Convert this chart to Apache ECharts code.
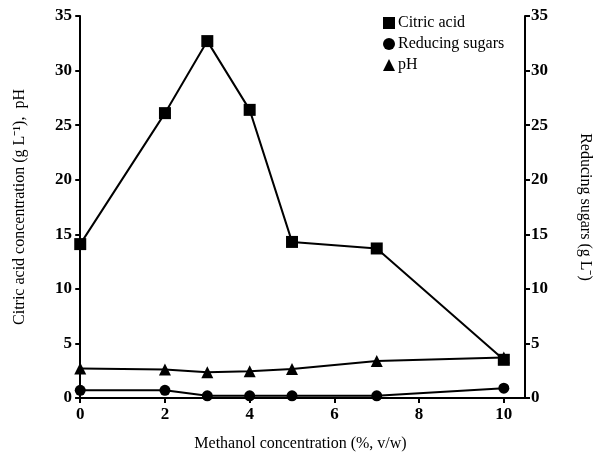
<!DOCTYPE html>
<html>
<head>
<meta charset="utf-8">
<script src="https://cdn.jsdelivr.net/npm/echarts@6/dist/echarts.min.js"></script>
<style>
  html, body { margin: 0; padding: 0; background: #fff; }
  #chart { width: 608px; height: 460px; }
</style>
</head>
<body>
<div id="chart"></div>
<script>
const methanol = [0, 2, 3, 4, 5, 7, 10];
const citricAcid = [14.1, 26.1, 32.7, 26.4, 14.3, 13.7, 3.5];
const reducingSugars = [0.7, 0.7, 0.2, 0.2, 0.2, 0.2, 0.9];
const pH = [2.7, 2.6, 2.35, 2.45, 2.65, 3.4, 3.7];
const xTicks = [0, 2, 4, 6, 8, 10];

const font = 'Liberation Serif';
const chart = echarts.init(document.getElementById('chart'));

function pairs(ys) {
  return methanol.map((x, i) => [x, ys[i]]);
}

const lineStyle = { color: '#000', width: 2 };
const axisLine = { show: true, lineStyle: { color: '#000', width: 2 } };
const axisTick = { show: true, length: 5, lineStyle: { color: '#000', width: 2 } };
const axisLabel = { color: '#000', fontFamily: font, fontSize: 17, fontWeight: 'bold', margin: 4 };

const option = {
  animation: false,
  grid: { left: 76, right: 83, top: 16, bottom: 62 },
  legend: {
    orient: 'vertical',
    left: 378,
    top: 10,
    itemWidth: 12,
    itemHeight: 12,
    itemGap: 5,
    textStyle: { color: '#000', fontFamily: font, fontSize: 16, padding: [0, 0, 0, -2] },
    data: [
      { name: 'Citric acid', icon: 'rect' },
      { name: 'Reducing sugars', icon: 'circle' },
      { name: 'pH', icon: 'triangle' }
    ]
  },
  xAxis: {
    type: 'value',
    min: -0.1,
    max: 10.5,
    name: 'Methanol concentration (%, v/w)',
    nameLocation: 'middle',
    nameGap: 38,
    nameTextStyle: { color: '#000', fontFamily: font, fontSize: 16 },
    axisLine: axisLine,
    axisTick: Object.assign({ customValues: xTicks }, axisTick),
    axisLabel: Object.assign({}, axisLabel, { customValues: xTicks, margin: 8 }),
    splitLine: { show: false }
  },
  yAxis: [
    {
      type: 'value',
      min: 0,
      max: 35,
      interval: 5,
      position: 'left',
      name: 'Citric acid concentration (g L⁻¹),  pH',
      nameLocation: 'middle',
      nameGap: 48,
      nameTextStyle: { color: '#000', fontFamily: font, fontSize: 16 },
      axisLine: axisLine,
      axisTick: axisTick,
      axisLabel: axisLabel,
      splitLine: { show: false }
    },
    {
      type: 'value',
      min: 0,
      max: 35,
      interval: 5,
      position: 'right',
      name: 'Reducing sugars (g L⁻)',
      nameLocation: 'middle',
      nameRotate: -90,
      nameGap: 52,
      nameTextStyle: { color: '#000', fontFamily: font, fontSize: 16 },
      axisLine: axisLine,
      axisTick: axisTick,
      axisLabel: Object.assign({}, axisLabel, { margin: 6 }),
      splitLine: { show: false }
    }
  ],
  series: [
    {
      name: 'Citric acid',
      type: 'line',
      yAxisIndex: 0,
      data: pairs(citricAcid),
      symbol: 'rect',
      symbolSize: 12,
      lineStyle: lineStyle,
      itemStyle: { color: '#000' }
    },
    {
      name: 'Reducing sugars',
      type: 'line',
      yAxisIndex: 1,
      data: pairs(reducingSugars),
      symbol: 'circle',
      symbolSize: 11,
      lineStyle: lineStyle,
      itemStyle: { color: '#000' }
    },
    {
      name: 'pH',
      type: 'line',
      yAxisIndex: 0,
      data: pairs(pH),
      symbol: 'triangle',
      symbolSize: 12,
      lineStyle: lineStyle,
      itemStyle: { color: '#000' }
    }
  ]
};

chart.setOption(option);
</script>
</body>
</html>
